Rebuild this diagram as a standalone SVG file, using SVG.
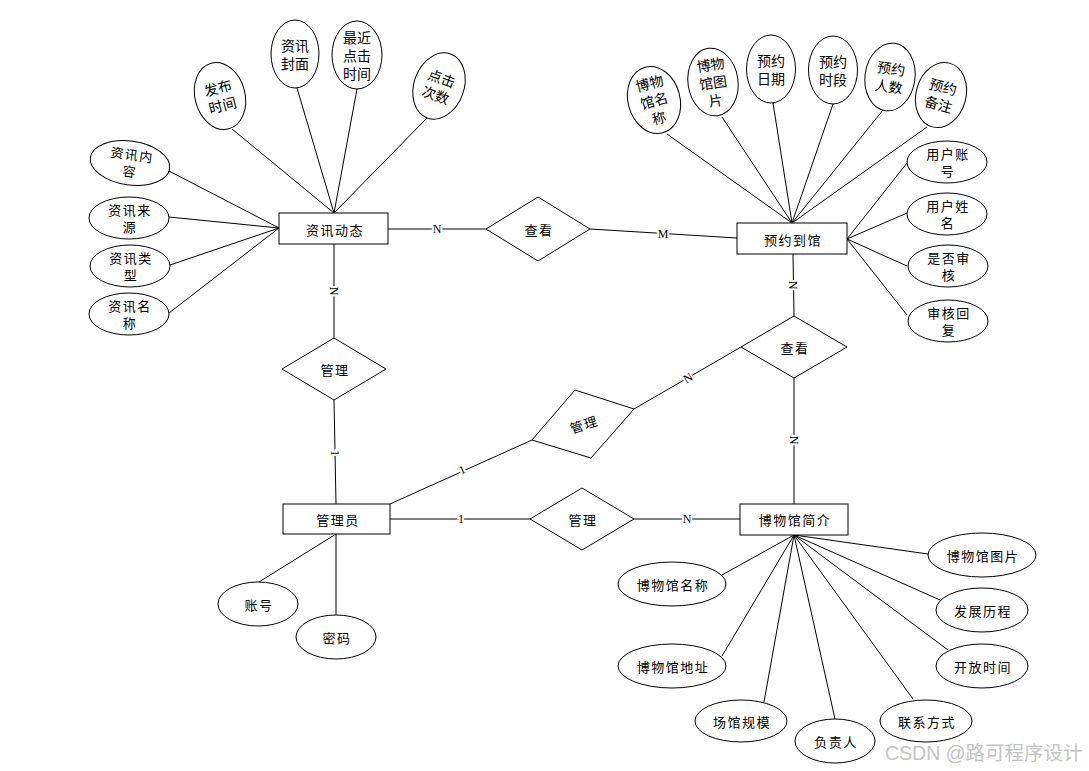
<svg xmlns="http://www.w3.org/2000/svg" width="1089" height="771" viewBox="0 0 1089 771">
<style>
.e{fill:#fff;stroke:#000;stroke-width:1}
.r{fill:#fff;stroke:#000;stroke-width:1}
.t{font-family:"Noto Sans CJK SC","Liberation Sans",sans-serif;font-size:13px;fill:#000;text-anchor:middle;dominant-baseline:central;letter-spacing:1.5px}
.tv{font-family:"Noto Sans CJK SC","Liberation Sans",sans-serif;font-size:14px;fill:#000;text-anchor:middle;dominant-baseline:central}
.l{font-family:"Liberation Serif",serif;font-size:12px;fill:#000;text-anchor:middle;dominant-baseline:central;stroke:#fff;stroke-width:4px;paint-order:stroke}
#conn line{stroke:#000;stroke-width:1}
</style>
<rect width="1089" height="771" fill="#fff"/>
<g id="conn">
<line x1="232" y1="129" x2="334" y2="213"/>
<line x1="297" y1="88" x2="334" y2="213"/>
<line x1="357" y1="89" x2="334" y2="213"/>
<line x1="427" y1="118" x2="334" y2="213"/>
<line x1="169" y1="171" x2="279" y2="228"/>
<line x1="169" y1="217" x2="279" y2="228"/>
<line x1="170" y1="265" x2="279" y2="228"/>
<line x1="169" y1="313" x2="279" y2="228"/>
<line x1="388" y1="229" x2="486" y2="229"/>
<line x1="590" y1="229" x2="737" y2="238"/>
<line x1="667" y1="134" x2="792" y2="223"/>
<line x1="722" y1="117" x2="792" y2="223"/>
<line x1="773" y1="103" x2="792" y2="223"/>
<line x1="833" y1="104" x2="792" y2="223"/>
<line x1="883" y1="110" x2="792" y2="223"/>
<line x1="927" y1="127" x2="792" y2="223"/>
<line x1="907" y1="163" x2="847" y2="239"/>
<line x1="907" y1="213" x2="847" y2="239"/>
<line x1="907" y1="266" x2="847" y2="239"/>
<line x1="907" y1="315" x2="847" y2="239"/>
<line x1="793" y1="254" x2="794" y2="316"/>
<line x1="794" y1="378" x2="794" y2="504"/>
<line x1="334" y1="244" x2="334" y2="338"/>
<line x1="334" y1="400" x2="336" y2="504"/>
<line x1="390" y1="504" x2="532" y2="440"/>
<line x1="634" y1="409" x2="741" y2="347"/>
<line x1="390" y1="519" x2="530" y2="519"/>
<line x1="634" y1="519" x2="740" y2="519"/>
<line x1="722" y1="575" x2="794" y2="535"/>
<line x1="722" y1="656" x2="794" y2="535"/>
<line x1="764" y1="702" x2="794" y2="535"/>
<line x1="835" y1="719" x2="794" y2="535"/>
<line x1="913" y1="699" x2="794" y2="535"/>
<line x1="948" y1="650" x2="794" y2="535"/>
<line x1="940" y1="600" x2="794" y2="535"/>
<line x1="928" y1="554" x2="794" y2="535"/>
<line x1="259" y1="582" x2="336" y2="534"/>
<line x1="336" y1="615" x2="336" y2="534"/>
<text class="l" x="437" y="229">N</text>
<text class="l" x="663" y="234">M</text>
<text class="l" x="334" y="291" transform="rotate(90 334 291)">N</text>
<text class="l" x="335" y="453" transform="rotate(90 335 453)">1</text>
<text class="l" x="793" y="285" transform="rotate(90 793 285)">N</text>
<text class="l" x="794" y="440" transform="rotate(90 794 440)">N</text>
<text class="l" x="462" y="470" transform="rotate(-24 462 470)">1</text>
<text class="l" x="688" y="378" transform="rotate(-30 688 378)">N</text>
<text class="l" x="461" y="519">1</text>
<text class="l" x="687" y="519">N</text>
</g>
<g id="n_zxdt"><rect class="r" x="279" y="213" width="109" height="31"/><text class="t" x="335" y="229">资讯动态</text></g>
<g id="n_yydg"><rect class="r" x="737" y="223" width="110" height="31"/><text class="t" x="793" y="239">预约到馆</text></g>
<g id="n_gly"><rect class="r" x="283" y="504" width="107" height="30"/><text class="t" x="338" y="519">管理员</text></g>
<g id="n_bwgjj"><rect class="r" x="740" y="504" width="108" height="31"/><text class="t" x="795" y="519">博物馆简介</text></g>
<g id="r_ck1"><polygon class="r" points="486,229 538,197 590,229 538,261"/><text class="t" x="539" y="229">查看</text></g>
<g id="r_ck2"><polygon class="r" points="741,347 794,316 847,347 794,378"/><text class="t" x="795" y="347">查看</text></g>
<g id="r_gl1"><polygon class="r" points="282,369 334,338 386,369 334,400"/><text class="t" x="335" y="369">管理</text></g>
<g id="r_gl2"><polygon class="r" points="532,440 575,390 634,409 591,458"/><text class="t" x="584" y="424" transform="rotate(-18 584 424)">管理</text></g>
<g id="r_gl3"><polygon class="r" points="530,519 582,488 634,519 582,550"/><text class="t" x="583" y="519">管理</text></g>
<g id="a_fbsj" transform="rotate(-15 220 96)"><ellipse class="e" cx="220" cy="96" rx="25" ry="34"/><text class="tv" x="220" y="87">发布</text><text class="tv" x="220" y="105">时间</text></g>
<g id="a_zxfm"><ellipse class="e" cx="295" cy="54" rx="24" ry="34"/><text class="tv" x="295" y="45">资讯</text><text class="tv" x="295" y="63">封面</text></g>
<g id="a_zjdjsj"><ellipse class="e" cx="357" cy="55" rx="25" ry="34"/><text class="tv" x="357" y="37">最近</text><text class="tv" x="357" y="55">点击</text><text class="tv" x="357" y="73">时间</text></g>
<g id="a_djcs" transform="rotate(20 439 86)"><ellipse class="e" cx="439" cy="86" rx="25" ry="34"/><text class="tv" x="439" y="77">点击</text><text class="tv" x="439" y="95">次数</text></g>
<g id="a_zxnr" transform="rotate(8 130 163)"><ellipse class="e" cx="130" cy="163" rx="40" ry="22"/><text class="t" x="131" y="154">资讯内</text><text class="t" x="131" y="171">容</text></g>
<g id="a_zxly"><ellipse class="e" cx="129" cy="218" rx="40" ry="21"/><text class="t" x="130" y="209">资讯来</text><text class="t" x="130" y="226">源</text></g>
<g id="a_zxlx"><ellipse class="e" cx="130" cy="266" rx="40" ry="21"/><text class="t" x="131" y="257">资讯类</text><text class="t" x="131" y="274">型</text></g>
<g id="a_zxmc"><ellipse class="e" cx="129" cy="314" rx="40" ry="21"/><text class="t" x="130" y="305">资讯名</text><text class="t" x="130" y="322">称</text></g>
<g id="a_bwgmc1" transform="rotate(-15 654 100)"><ellipse class="e" cx="654" cy="100" rx="26" ry="34"/><text class="tv" x="654" y="82">博物</text><text class="tv" x="654" y="100">馆名</text><text class="tv" x="654" y="118">称</text></g>
<g id="a_bwgtp1" transform="rotate(-8 713 82)"><ellipse class="e" cx="713" cy="82" rx="25" ry="34"/><text class="tv" x="713" y="64">博物</text><text class="tv" x="713" y="82">馆图</text><text class="tv" x="713" y="100">片</text></g>
<g id="a_yyrq"><ellipse class="e" cx="771" cy="69" rx="24.5" ry="34"/><text class="tv" x="771" y="60">预约</text><text class="tv" x="771" y="78">日期</text></g>
<g id="a_yysd"><ellipse class="e" cx="833" cy="70" rx="24.5" ry="34"/><text class="tv" x="833" y="61">预约</text><text class="tv" x="833" y="79">时段</text></g>
<g id="a_yyrs" transform="rotate(8 890 77)"><ellipse class="e" cx="890" cy="77" rx="25" ry="34"/><text class="tv" x="890" y="68">预约</text><text class="tv" x="890" y="86">人数</text></g>
<g id="a_yybz" transform="rotate(15 941 95)"><ellipse class="e" cx="941" cy="95" rx="25" ry="33"/><text class="tv" x="941" y="86">预约</text><text class="tv" x="941" y="104">备注</text></g>
<g id="a_yhzh"><ellipse class="e" cx="947" cy="162" rx="40" ry="21"/><text class="t" x="948" y="153">用户账</text><text class="t" x="948" y="170">号</text></g>
<g id="a_yhxm"><ellipse class="e" cx="947" cy="214" rx="40" ry="21"/><text class="t" x="948" y="205">用户姓</text><text class="t" x="948" y="222">名</text></g>
<g id="a_sfsh"><ellipse class="e" cx="948" cy="266" rx="40" ry="21"/><text class="t" x="949" y="257">是否审</text><text class="t" x="949" y="274">核</text></g>
<g id="a_shhf"><ellipse class="e" cx="948" cy="321" rx="40" ry="21"/><text class="t" x="949" y="312">审核回</text><text class="t" x="949" y="329">复</text></g>
<g id="a_zh"><ellipse class="e" cx="258" cy="604" rx="40" ry="22"/><text class="t" x="259" y="604">账号</text></g>
<g id="a_mm"><ellipse class="e" cx="336" cy="637" rx="40" ry="22"/><text class="t" x="337" y="637">密码</text></g>
<g id="a_bwgmc2"><ellipse class="e" cx="672" cy="584" rx="54" ry="22"/><text class="t" x="673" y="584">博物馆名称</text></g>
<g id="a_bwgdz"><ellipse class="e" cx="672" cy="666" rx="54" ry="22"/><text class="t" x="673" y="666">博物馆地址</text></g>
<g id="a_cggm"><ellipse class="e" cx="741" cy="721" rx="46" ry="21"/><text class="t" x="742" y="721">场馆规模</text></g>
<g id="a_fzr"><ellipse class="e" cx="835" cy="741" rx="40" ry="22"/><text class="t" x="836" y="741">负责人</text></g>
<g id="a_lxfs"><ellipse class="e" cx="926" cy="721" rx="46" ry="21"/><text class="t" x="927" y="721">联系方式</text></g>
<g id="a_kfsj"><ellipse class="e" cx="982" cy="666" rx="46" ry="22"/><text class="t" x="983" y="666">开放时间</text></g>
<g id="a_fzlc"><ellipse class="e" cx="982" cy="610" rx="46" ry="22"/><text class="t" x="983" y="610">发展历程</text></g>
<g id="a_bwgtp2"><ellipse class="e" cx="982" cy="555" rx="54" ry="22"/><text class="t" x="983" y="555">博物馆图片</text></g>
<text x="885" y="760" font-family="'Liberation Sans','Noto Sans CJK SC',sans-serif" font-size="19.5" fill="#c4c4c4">CSDN @路可程序设计</text>
</svg>
